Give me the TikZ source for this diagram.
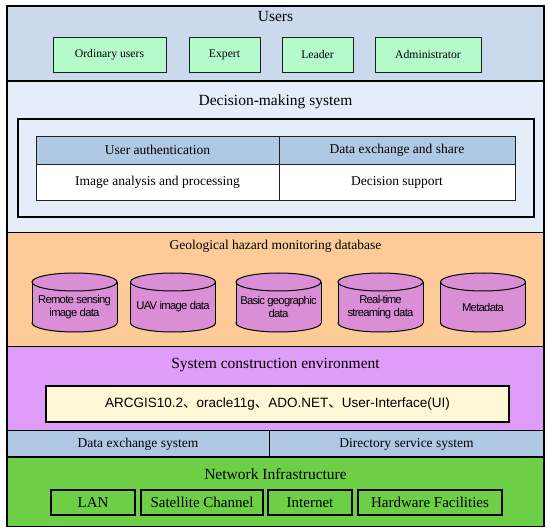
\documentclass[tikz,border=0pt]{standalone}
\usepackage{fontspec}
\setmainfont{Liberation Serif}
\newfontfamily\arialf{Liberation Sans}
\newfontfamily\cylf[LetterSpace=-6.5]{Liberation Sans}
\newfontfamily\cjk{Noto Sans CJK SC}
\definecolor{usersbg}{HTML}{CAD9EC}
\definecolor{mint}{HTML}{B4FACB}
\definecolor{decbg}{HTML}{E5EEF8}
\definecolor{hdrblue}{HTML}{AFC9E5}
\definecolor{peach}{HTML}{FCCB98}
\definecolor{cylcol}{HTML}{D98ED5}
\definecolor{lilac}{HTML}{DF9CF8}
\definecolor{cream}{HTML}{FFF7D6}
\definecolor{grass}{HTML}{6DCF45}
\definecolor{edge}{HTML}{202020}
\begin{document}
\begin{tikzpicture}[x=1pt,y=-1pt,
  band/.style={draw=black,line width=1.1pt},
  box/.style={draw=edge,line width=0.9pt,anchor=north west,inner sep=0pt,outer sep=0pt},
  title/.style={font=\fontsize{15.5}{18}\selectfont,text=black},
  subtitle/.style={font=\fontsize{13.5}{16}\selectfont,text=black},
  userbox/.style={box,fill=mint,minimum height=35pt,font=\fontsize{11.7}{14}\selectfont},
  cell/.style={box,font=\fontsize{13.5}{16}\selectfont},
  netbox/.style={box,draw=black,line width=1.1pt,fill=grass,minimum height=25pt,font=\fontsize{15}{18}\selectfont},
  cylline/.style={draw=black,line width=1pt},
  cyltext/.style={font=\cylf\fontsize{11.3}{13}\selectfont,align=center,text=black}
]
\useasboundingbox (0,0) rectangle (550,532);
% bands
\path[band,fill=usersbg] (7,6) rectangle (544,81);
\path[band,fill=decbg] (7,81) rectangle (544,232.5);
\path[band,fill=peach] (7,232.5) rectangle (544,346.5);
\path[band,fill=lilac] (7,346.5) rectangle (544,431);
\path[band,fill=grass] (7,457) rectangle (544,526.5);
% users
\node[title] (tusers) at (275.5,17) {Users};
\node[userbox,minimum width=113pt] (u1) at (53,37) {Ordinary users};
\node[userbox,minimum width=71pt] (u2) at (189,37) {Expert};
\node[userbox,minimum width=71pt] (u3) at (282,37) {Leader};
\node[userbox,minimum width=106pt] (u4) at (375,37) {Administrator};
% decision-making
\node[title] (tdec) at (275.5,102) {Decision-making system};
\node[box,draw=black,line width=1.2pt,minimum width=516pt,minimum height=98pt] (frame) at (18,119) {};
\node[cell,fill=hdrblue,minimum width=243pt,minimum height=28pt] (c11) at (36,136) {User authentication};
\node[cell,fill=hdrblue,minimum width=236pt,minimum height=28pt] (c12) at (279,136) {Data exchange and share};
\node[cell,fill=white,minimum width=243pt,minimum height=36pt] (c21) at (36,164) {Image analysis and processing};
\node[cell,fill=white,minimum width=236pt,minimum height=36pt] (c22) at (279,164) {Decision support};
% database
\node[subtitle] (tdb) at (275.5,246) {Geological hazard monitoring database};
\foreach \cx/\nm/\txt in {74.5/d1/{Remote sensing\\image data},173/d2/{UAV image data},278.5/d3/{Basic geographic\\data},380.5/d4/{Real-time\\streaming data},483/d5/{Metadata}}{
  \path[cylline,fill=cylcol] (\cx,323) ellipse [x radius=42.5pt,y radius=9pt];
  \fill[cylcol] (\cx-42.5,282) rectangle (\cx+42.5,323);
  \draw[cylline] (\cx-42.5,282) -- (\cx-42.5,323) (\cx+42.5,282) -- (\cx+42.5,323);
  \path[cylline,fill=cylcol] (\cx,282) ellipse [x radius=42.5pt,y radius=9pt];
  \node[cyltext] (\nm) at (\cx,307) {\txt};
}
% system construction
\node[title] (tsys) at (275.5,365) {System construction environment};
\node[box,draw=black,line width=1.1pt,fill=cream,minimum width=463pt,minimum height=36pt,font=\arialf\fontsize{13.5}{16}\selectfont] (env) at (46,386) {ARCGIS10.2{\cjk 、}oracle11g{\cjk 、}ADO.NET{\cjk 、}User-Interface(UI)};
% exchange / directory
\node[box,draw=black,line width=1pt,fill=hdrblue,minimum width=262pt,minimum height=26pt,font=\fontsize{13.5}{16}\selectfont] (dex) at (7,431) {Data exchange system};
\node[box,draw=black,line width=1pt,fill=hdrblue,minimum width=275pt,minimum height=26pt,font=\fontsize{13.5}{16}\selectfont] (dir) at (269,431) {Directory service system};
% network
\node[title] (tnet) at (275.5,474) {Network Infrastructure};
\node[netbox,minimum width=84pt] (n1) at (51,490) {LAN};
\node[netbox,minimum width=122pt] (n2) at (141,490) {Satellite Channel};
\node[netbox,minimum width=84pt] (n3) at (268,490) {Internet};
\node[netbox,minimum width=144pt] (n4) at (358,490) {Hardware Facilities};
\draw[band,fill=none] (7,6) rectangle (544,526.5);
\end{tikzpicture}
\end{document}
